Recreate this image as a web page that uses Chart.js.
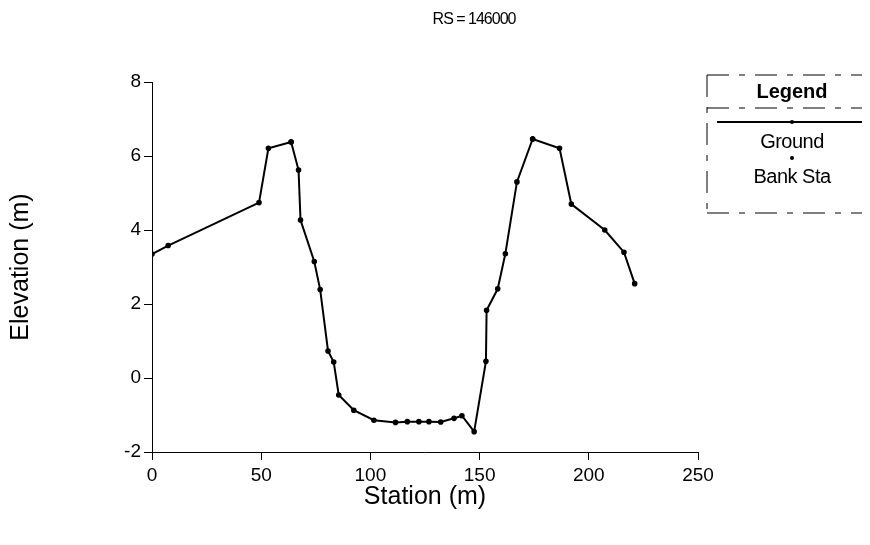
<!DOCTYPE html>
<html>
<head>
<meta charset="utf-8">
<script src="https://cdn.jsdelivr.net/npm/chart.js@4/dist/chart.umd.min.js"></script>
<style>
  html, body { margin: 0; padding: 0; background: #fff; }
  #wrap { width: 870px; height: 545px; position: relative; }
</style>
</head>
<body>
<div id="wrap"><canvas id="c" width="870" height="545"></canvas></div>
<script>
// Cross section RS = 146000: ground profile (station, elevation) in metres
const stations = [0, 7.4, 49, 53.3, 63.7, 67.1, 68, 74.3, 77, 80.6, 83.2, 85.5, 92.4, 101.6,
  111.5, 116.9, 122.2, 126.8, 132.2, 138.3, 141.9, 147.5, 152.9, 153.2, 158.3, 161.8,
  167.1, 174.3, 186.6, 192, 207.3, 216.1, 221];
const elevations = [3.35, 3.58, 4.74, 6.21, 6.38, 5.62, 4.27, 3.15, 2.39, 0.73, 0.43, -0.46,
  -0.87, -1.14, -1.2, -1.18, -1.18, -1.18, -1.19, -1.09, -1.02, -1.45, 0.45, 1.83, 2.41, 3.36,
  5.3, 6.46, 6.21, 4.7, 4.0, 3.4, 2.55];
// Left and right bank stations
const bankStations = [63.7, 174.3];
const bankElevations = [6.38, 6.46];

const xTicks = [0, 50, 100, 150, 200, 250];
const yTicks = [-2, 0, 2, 4, 6, 8];
const titleText = 'RS = 146000';
const legendTitle = 'Legend';
const seriesNames = ['Ground', 'Bank Sta'];

const FONT = '"Liberation Sans", Arial, sans-serif';

const groundData = stations.map((s, i) => ({ x: s, y: elevations[i] }));
const bankData = bankStations.map((s, i) => ({ x: s, y: bankElevations[i] }));

// Title and boxed legend drawn onto the canvas
const decorations = {
  id: 'decorations',
  afterDraw(chart) {
    const ctx = chart.ctx;
    ctx.save();
    ctx.fillStyle = '#000';
    ctx.textAlign = 'center';
    ctx.textBaseline = 'middle';
    ctx.font = '16px ' + FONT;
    ctx.letterSpacing = '-1px';
    ctx.fillText(titleText, 474, 20);
    ctx.letterSpacing = '0px';

    // legend box
    ctx.strokeStyle = '#000';
    ctx.lineWidth = 1;
    ctx.setLineDash([22, 10, 6, 10]);
    ctx.beginPath();
    ctx.moveTo(707, 75); ctx.lineTo(862, 75);
    ctx.moveTo(707, 108); ctx.lineTo(862, 108);
    ctx.moveTo(707, 213); ctx.lineTo(862, 213);
    ctx.moveTo(707, 75); ctx.lineTo(707, 213);
    ctx.stroke();
    ctx.setLineDash([]);

    ctx.font = 'bold 20px ' + FONT;
    ctx.fillText(legendTitle, 792, 92);

    ctx.lineWidth = 2;
    ctx.beginPath();
    ctx.moveTo(717, 122); ctx.lineTo(862, 122);
    ctx.stroke();
    ctx.beginPath(); ctx.arc(792, 122, 2, 0, Math.PI * 2); ctx.fill();

    ctx.font = '20px ' + FONT;
    ctx.letterSpacing = '-0.5px';
    ctx.fillText(seriesNames[0], 792, 142);
    ctx.beginPath(); ctx.arc(792, 158, 2, 0, Math.PI * 2); ctx.fill();
    ctx.fillText(seriesNames[1], 792, 177);
    ctx.restore();
  }
};

new Chart(document.getElementById('c'), {
  type: 'scatter',
  data: {
    datasets: [
      {
        label: seriesNames[0],
        data: groundData,
        showLine: true,
        borderColor: '#000',
        backgroundColor: '#000',
        borderWidth: 2,
        pointRadius: 1.8,
        pointHoverRadius: 1.8,
        tension: 0
      },
      {
        label: seriesNames[1],
        data: bankData,
        showLine: false,
        borderColor: '#000',
        backgroundColor: '#000',
        pointRadius: 2.4,
        pointHoverRadius: 2.4
      }
    ]
  },
  options: {
    responsive: false,
    animation: false,
    events: [],
    layout: { padding: { top: 82, right: 172, bottom: 0, left: 0 } },
    plugins: {
      legend: { display: false },
      tooltip: { enabled: false },
      title: { display: false }
    },
    scales: {
      x: {
        type: 'linear',
        min: 0,
        max: 250,
        afterBuildTicks(scale) { scale.ticks = xTicks.map(v => ({ value: v })); },
        afterFit(scale) { scale.height = 93; },
        border: { display: true, color: '#000', width: 1, dash: [26, 8, 2, 8] },
        grid: { drawOnChartArea: false, drawTicks: true, tickLength: 8, color: '#000' },
        ticks: { color: '#000', font: { family: FONT, size: 19 }, padding: 4, maxRotation: 0 },
        title: {
          display: true, text: 'Station (m)', color: '#000',
          font: { family: FONT, size: 25 }, padding: { top: 33, bottom: 33 }
        }
      },
      y: {
        type: 'linear',
        min: -2,
        max: 8,
        afterBuildTicks(scale) { scale.ticks = yTicks.map(v => ({ value: v })); },
        afterFit(scale) { scale.width = 152; },
        border: { display: true, color: '#000', width: 1, dash: [26, 8, 2, 8] },
        grid: { drawOnChartArea: false, drawTicks: true, tickLength: 8, color: '#000' },
        ticks: { color: '#000', font: { family: FONT, size: 19 }, padding: 3 },
        title: {
          display: true, text: 'Elevation (m)', color: '#000',
          font: { family: FONT, size: 25 }, padding: { top: 6, bottom: 6 }
        }
      }
    }
  },
  plugins: [decorations]
});
</script>
</body>
</html>
